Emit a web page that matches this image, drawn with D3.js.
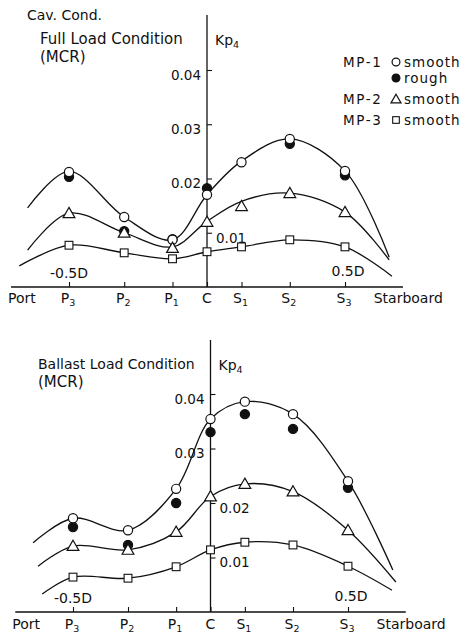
<!DOCTYPE html>
<html>
<head>
<meta charset="utf-8">
<script src="https://cdn.jsdelivr.net/npm/d3@7"></script>
<style>
  html, body { margin: 0; padding: 0; background: #fff; }
  svg { display: block; }
  text { font-family: "DejaVu Sans", sans-serif; fill: #111; }
</style>
</head>
<body>
<svg id="chart" width="467" height="636"></svg>
<script>
// ---------------- DATA ----------------
const stations = ["P3", "P2", "P1", "C", "S1", "S2", "S3"];
const stationPos = [-0.5, -0.3, -0.125, 0, 0.125, 0.3, 0.5];
const yTicks = [0.01, 0.02, 0.03, 0.04];

// Full load condition (MCR) – measured points
const fullMP1Smooth = [0.0212, 0.0129, 0.0087, 0.0170, 0.0230, 0.0273, 0.0214];
const fullMP1Rough  = [0.0203, 0.0103, 0.0088, 0.0182, null,   0.0264, 0.0206];
const fullMP2Smooth = [0.0136, 0.0100, 0.0072, 0.0120, 0.0149, 0.0173, 0.0138];
const fullMP3Smooth = [0.0077, 0.0063, 0.0052, 0.0065, 0.0074, 0.0087, 0.0074];
// Full load – faired curves (ends beyond P3/S3 plus values at stations)
const fullMP1CurveEnds = [[-0.65, 0.0146], [0.66, 0.0055]];
const fullMP2CurveEnds = [[-0.65, 0.0068], [0.66, 0.0050]];
const fullMP3CurveEnds = [[-0.68, 0.0039], [0.67, 0.0020]];
const fullMP1Curve = [0.0213, 0.0129, 0.0087, 0.0170, 0.0232, 0.0273, 0.0214];
const fullMP2Curve = [0.0136, 0.0100, 0.0074, 0.0121, 0.0158, 0.0173, 0.0138];
const fullMP3Curve = [0.0077, 0.0063, 0.0052, 0.0065, 0.0074, 0.0087, 0.0074];

// Ballast load condition (MCR) – measured points
const ballMP1Smooth = [0.0172, 0.0150, 0.0226, 0.0354, 0.0386, 0.0363, 0.0240];
const ballMP1Rough  = [0.0156, 0.0123, 0.0200, 0.0330, 0.0363, 0.0336, 0.0228];
const ballMP2Smooth = [0.0121, 0.0114, 0.0147, 0.0212, 0.0235, 0.0221, 0.0150];
const ballMP3Smooth = [0.0064, 0.0062, 0.0083, 0.0114, 0.0128, 0.0123, 0.0084];
const ballMP1CurveEnds = [[-0.645, 0.0127], [0.663, 0.0077]];
const ballMP2CurveEnds = [[-0.627, 0.0084], [0.674, 0.0055]];
const ballMP3CurveEnds = [[-0.612, 0.0033], [0.660, 0.0040]];
const ballMP1Curve = ballMP1Smooth;
const ballMP2Curve = ballMP2Smooth;
const ballMP3Curve = ballMP3Smooth;

const legendRows = [
  { series: "MP-1", marker: "circle", label: "smooth" },
  { series: "",     marker: "dot",    label: "rough" },
  { series: "MP-2", marker: "triangle", label: "smooth" },
  { series: "MP-3", marker: "square", label: "smooth" }
];

// ---------------- DRAWING ----------------
const svg = d3.select("#chart");

function marker(g, type, cx, cy, scale) {
  const k = scale || 1;
  if (type === "circle" || type === "dot") {
    g.append("circle").attr("cx", cx).attr("cy", cy).attr("r", 4.6 * k)
      .attr("fill", type === "dot" ? "#111" : "#fff")
      .attr("stroke", "#111").attr("stroke-width", 1.2);
  } else if (type === "triangle") {
    const s = d3.symbol().type(d3.symbolTriangle).size(60 * k * k);
    g.append("path").attr("d", s()).attr("transform", `translate(${cx},${cy + 1})`)
      .attr("fill", "#fff").attr("stroke", "#111").attr("stroke-width", 1.2);
  } else if (type === "square") {
    const h = 3.9 * k;
    g.append("rect").attr("x", cx - h).attr("y", cy - h).attr("width", 2 * h).attr("height", 2 * h)
      .attr("fill", "#fff").attr("stroke", "#111").attr("stroke-width", 1.1);
  }
}

function subLabel(g, x, y, main, sub, anchor, size) {
  const fs = size || 14;
  const t = g.append("text").attr("x", x).attr("y", y).attr("font-size", fs)
    .attr("text-anchor", anchor || "middle");
  t.append("tspan").text(main);
  if (sub) t.append("tspan").attr("font-size", fs * 0.68).attr("dy", 3).text(sub);
  return t;
}

function drawPanel(p) {
  const g = svg.append("g");
  const x = d3.scaleLinear().domain([-0.5, 0.5]).range(p.xRange);
  const y = d3.scaleLinear().domain([0, 0.04]).range(p.yRange);

  // x axis line & station ticks
  g.append("line").attr("x1", x(-0.71)).attr("x2", x(0.71))
    .attr("y1", y(0)).attr("y2", y(0)).attr("stroke", "#111").attr("stroke-width", 1.3);
  const xAxis = d3.axisTop(x).tickValues(stationPos).tickSize(5).tickFormat("");
  const xa = g.append("g").attr("transform", `translate(0,${y(0)})`).call(xAxis);
  xa.select(".domain").remove();
  xa.selectAll("line").attr("stroke", "#111").attr("stroke-width", 1.1);

  // station labels
  stations.forEach((s, i) => {
    subLabel(g, x(stationPos[i]) + (s === "C" ? 0 : -1), y(0) + p.labelDy, s[0], s.slice(1));
  });
  g.append("text").attr("x", x(-0.71) - 3).attr("y", y(0) + p.labelDy).attr("font-size", 14).text("Port");
  g.append("text").attr("x", x(0.604)).attr("y", y(0) + p.labelDy).attr("font-size", 14).text("Starboard");
  g.append("text").attr("x", x(-0.5)).attr("y", y(0) - 9).attr("font-size", 14)
    .attr("text-anchor", "middle").text("-0.5D");
  g.append("text").attr("x", x(0.5) + 3).attr("y", y(0) - 11).attr("font-size", 14)
    .attr("text-anchor", "middle").text("0.5D");

  // y axis at C
  g.append("line").attr("x1", x(0)).attr("x2", x(0)).attr("y1", p.axisTop).attr("y2", y(0))
    .attr("stroke", "#111").attr("stroke-width", 1.3);
  const yAxis = d3.axisRight(y).tickValues(yTicks).tickSize(5).tickFormat(d3.format(".2f"));
  const ya = g.append("g").attr("transform", `translate(${x(0)},0)`).call(yAxis);
  ya.select(".domain").remove();
  ya.selectAll("line").attr("stroke", "#111").attr("stroke-width", 1.1);
  ya.selectAll("text").attr("font-size", 13.5).attr("font-family", "DejaVu Sans")
    .attr("fill", "#111").attr("dy", "0.7em")
    .each(function(d) {
      const left = p.leftLabels.includes(d);
      d3.select(this).attr("text-anchor", left ? "end" : "start")
        .attr("x", left ? -6 : 9);
    });
  subLabel(g, x(0) + 8, p.axisTop + 30, "Kp", "4", "start", 14);

  // titles
  p.titles.forEach(t => {
    g.append("text").attr("x", t[0]).attr("y", t[1]).attr("font-size", t[3]).text(t[2]);
  });

  // curves
  const line = d3.line().x(d => x(d[0])).y(d => y(d[1]))
    .curve(d3.curveCatmullRom.alpha(0.5));
  p.curves.forEach(c => {
    const pts = [c.ends[0]].concat(stationPos.map((s, i) => [s, c.vals[i]])).concat([c.ends[1]]);
    g.append("path").attr("d", line(pts)).attr("fill", "none")
      .attr("stroke", "#111").attr("stroke-width", 1.3);
  });

  // markers
  p.markers.forEach(m => {
    m.vals.forEach((v, i) => {
      if (v == null) return;
      marker(g, m.type, x(stationPos[i]), y(v));
    });
  });
}

drawPanel({
  xRange: [69, 345], yRange: [287, 70], axisTop: 15, labelDy: 16,
  leftLabels: [0.02, 0.03, 0.04],
  titles: [[27, 20, "Cav. Cond.", 14], [40, 44, "Full Load Condition", 15], [40, 62, "(MCR)", 15]],
  curves: [
    { ends: fullMP1CurveEnds, vals: fullMP1Curve },
    { ends: fullMP2CurveEnds, vals: fullMP2Curve },
    { ends: fullMP3CurveEnds, vals: fullMP3Curve }
  ],
  markers: [
    { type: "dot", vals: fullMP1Rough },
    { type: "circle", vals: fullMP1Smooth },
    { type: "triangle", vals: fullMP2Smooth },
    { type: "square", vals: fullMP3Smooth }
  ]
});

drawPanel({
  xRange: [73, 348], yRange: [612, 394], axisTop: 340, labelDy: 17,
  leftLabels: [0.03, 0.04],
  titles: [[38, 369, "Ballast Load Condition", 14], [38, 387, "(MCR)", 15]],
  curves: [
    { ends: ballMP1CurveEnds, vals: ballMP1Curve },
    { ends: ballMP2CurveEnds, vals: ballMP2Curve },
    { ends: ballMP3CurveEnds, vals: ballMP3Curve }
  ],
  markers: [
    { type: "dot", vals: ballMP1Rough },
    { type: "circle", vals: ballMP1Smooth },
    { type: "triangle", vals: ballMP2Smooth },
    { type: "square", vals: ballMP3Smooth }
  ]
});

// legend
const lg = svg.append("g");
const rowY = [62, 78, 99, 120];
legendRows.forEach((r, i) => {
  if (r.series) lg.append("text").attr("x", 343).attr("y", rowY[i] + 5).attr("font-size", 13.5)
    .attr("letter-spacing", 1.6).text(r.series);
  marker(lg, r.marker, 396, rowY[i], 0.85);
  lg.append("text").attr("x", 404).attr("y", rowY[i] + 5).attr("font-size", 13.5)
    .attr("letter-spacing", 1.0).text(r.label);
});
</script>
</body>
</html>
